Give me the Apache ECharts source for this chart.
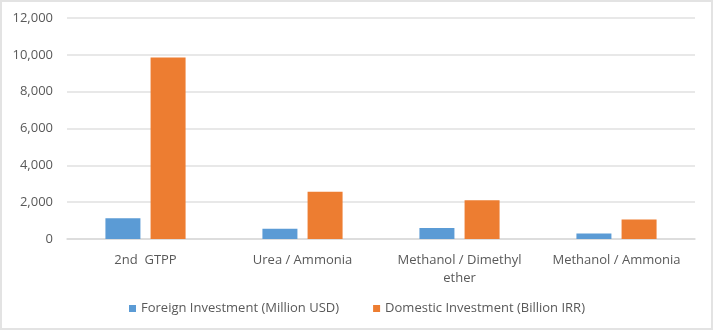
<!DOCTYPE html>
<html>
<head>
<meta charset="utf-8">
<script src="https://cdn.jsdelivr.net/npm/echarts@6/dist/echarts.min.js"></script>
<style>
  html, body { margin: 0; padding: 0; background: #ffffff; }
  #chart { width: 714px; height: 331px; }
</style>
</head>
<body>
<div id="chart"></div>
<script>
// Investment per petrochemical project
const categories = ['2nd  GTPP', 'Urea / Ammonia', 'Methanol / Dimethyl\nether', 'Methanol / Ammonia'];
const foreignInvestment = [1130, 550, 600, 300];     // Million USD
const domesticInvestment = [9860, 2560, 2100, 1060]; // Billion IRR
const yTicks = { min: 0, max: 12000, interval: 2000 };

const textColor = '#595959';
const font = 'Open Sans';
const fontSize = 13;

const chart = echarts.init(document.getElementById('chart'), null, { renderer: 'canvas' });
chart.setOption({
  animation: false,
  textStyle: { fontFamily: font },
  graphic: [{
    type: 'rect',
    shape: { x: 1, y: 1, width: 711, height: 328 },
    style: { fill: 'none', stroke: '#e3e3e3', lineWidth: 2 },
    silent: true
  }],
  grid: { left: 67, right: 19, top: 18, bottom: 92, containLabel: false },
  legend: {
    bottom: 11,
    left: 'center',
    itemWidth: 7,
    itemHeight: 7,
    itemGap: 34,
    icon: 'rect',
    textStyle: { color: textColor, fontSize: fontSize, fontFamily: font },
    data: ['Foreign Investment (Million USD)', 'Domestic Investment (Billion IRR)']
  },
  xAxis: {
    type: 'category',
    data: categories,
    axisLine: { show: true, lineStyle: { color: '#d9d9d9', width: 1.5 } },
    axisTick: { show: false },
    axisLabel: {
      interval: 0, hideOverlap: false,
      color: textColor, fontSize: fontSize, margin: 12, lineHeight: 18, fontFamily: font
    }
  },
  yAxis: {
    type: 'value',
    min: yTicks.min,
    max: yTicks.max,
    interval: yTicks.interval,
    axisLine: { show: false },
    axisTick: { show: false },
    splitLine: { lineStyle: { color: '#e0e0e0', width: 1.5 } },
    axisLabel: {
      color: textColor, fontSize: fontSize, margin: 14, fontFamily: font,
      formatter: v => v.toLocaleString('en-US')
    }
  },
  series: [
    {
      name: 'Foreign Investment (Million USD)',
      type: 'bar',
      data: foreignInvestment,
      barWidth: 35,
      barGap: '29%',
      itemStyle: { color: '#5B9BD5' }
    },
    {
      name: 'Domestic Investment (Billion IRR)',
      type: 'bar',
      data: domesticInvestment,
      barWidth: 35,
      barGap: '29%',
      itemStyle: { color: '#ED7D31' }
    }
  ]
});
</script>
</body>
</html>
